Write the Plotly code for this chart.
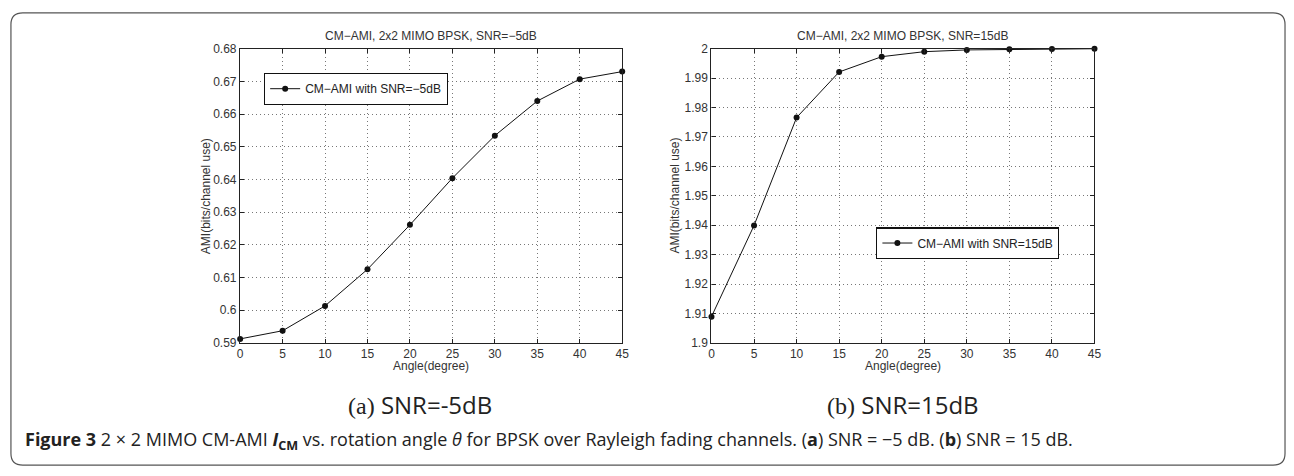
import plotly.graph_objects as go

W, H = 1294, 476

# ---- data ----
angles = [0, 5, 10, 15, 20, 25, 30, 35, 40, 45]
ami_snr_m5 = [0.5912, 0.5937, 0.6013, 0.6125, 0.6261, 0.6404, 0.6534, 0.6640, 0.6707, 0.6730]
ami_snr_15 = [1.9089, 1.9399, 1.9766, 1.9921, 1.9973, 1.9990, 1.9996, 1.9998, 1.9999, 2.0000]

x_ticks = [0, 5, 10, 15, 20, 25, 30, 35, 40, 45]
y_ticks_a = [0.59, 0.60, 0.61, 0.62, 0.63, 0.64, 0.65, 0.66, 0.67, 0.68]
y_ticks_b = [1.90, 1.91, 1.92, 1.93, 1.94, 1.95, 1.96, 1.97, 1.98, 1.99, 2.00]

title_a = "CM\u2212AMI, 2x2 MIMO BPSK, SNR=\u22125dB"
title_b = "CM\u2212AMI, 2x2 MIMO BPSK, SNR=15dB"
legend_a = "CM\u2212AMI with SNR=\u22125dB"
legend_b = "CM\u2212AMI with SNR=15dB"
x_title = "Angle(degree)"
y_title = "AMI(bits/channel use)"
sub_a = ("(a)", "SNR=-5dB")
sub_b = ("(b)", "SNR=15dB")
caption = ("<b>Figure 3</b> 2 \u00d7 2 MIMO CM-AMI <b><i>I</i><sub>CM</sub></b> vs. rotation angle "
           "<i>\u03b8</i> for BPSK over Rayleigh fading channels. (<b>a</b>) SNR = \u22125 dB. "
           "(<b>b</b>) SNR = 15 dB.")

# ---- layout geometry (pixels) ----
ax_a = (239, 624)
ax_b = (714, 1100)
ax_top, ax_bot = 43, 346

def px(x):
    return x / W

def py(y):
    return 1 - y / H

FONT = "Liberation Sans, Arial, sans-serif"

fig = go.Figure()
fig.add_trace(go.Scatter(x=angles, y=ami_snr_m5, mode="lines+markers", name=legend_a,
                         line=dict(color="#111", width=1), marker=dict(color="#111", size=6),
                         cliponaxis=False, xaxis="x", yaxis="y", legend="legend"))
fig.add_trace(go.Scatter(x=angles, y=ami_snr_15, mode="lines+markers", name=legend_b,
                         line=dict(color="#111", width=1), marker=dict(color="#111", size=6),
                         cliponaxis=False, xaxis="x2", yaxis="y2", legend="legend2"))

def fmt(v):
    return f"{v:g}"

axis_common = dict(showline=True, mirror="ticks", linecolor="#222", linewidth=1.4,
                   ticks="inside", ticklen=4, tickcolor="#222", tickwidth=1,
                   showgrid=True, gridcolor="#777", gridwidth=1, griddash="1px,3px",
                   zeroline=False, tickfont=dict(family=FONT, size=12, color="#333"))

fig.update_layout(
    width=W, height=H, margin=dict(l=0, r=0, t=0, b=0),
    paper_bgcolor="white", plot_bgcolor="white",
    xaxis=dict(domain=[px(ax_a[0]), px(ax_a[1])], range=[0, 45], tickvals=x_ticks,
               ticktext=[fmt(v) for v in x_ticks], anchor="y", **axis_common),
    yaxis=dict(domain=[py(ax_bot), py(ax_top)], range=[0.59, 0.68], tickvals=y_ticks_a,
               ticktext=[fmt(v) for v in y_ticks_a], anchor="x", **axis_common),
    xaxis2=dict(domain=[px(ax_b[0]), px(ax_b[1])], range=[0, 45], tickvals=x_ticks,
                ticktext=[fmt(v) for v in x_ticks], anchor="y2", **axis_common),
    yaxis2=dict(domain=[py(ax_bot), py(ax_top)], range=[1.9, 2.0], tickvals=y_ticks_b,
                ticktext=[fmt(v) for v in y_ticks_b], anchor="x2", **axis_common),
    legend=dict(x=px(263), y=py(68), xanchor="left", yanchor="top",
                bgcolor="white", bordercolor="#111", borderwidth=1.2,
                font=dict(family=FONT, size=12, color="#222"), itemwidth=30,
                tracegroupgap=0),
    legend2=dict(x=px(880), y=py(227), xanchor="left", yanchor="top",
                 bgcolor="white", bordercolor="#111", borderwidth=1.2,
                 font=dict(family=FONT, size=12, color="#222"), itemwidth=30,
                 tracegroupgap=0),
    showlegend=True,
)

ann = []
def text(x, y, t, size=12, family=FONT, color="#333", angle=0, xanchor="center"):
    ann.append(dict(x=px(x), y=py(y), xref="paper", yref="paper", text=t, showarrow=False,
                    xanchor=xanchor, yanchor="middle", textangle=angle,
                    font=dict(family=family, size=size, color=color)))

text((ax_a[0] + ax_a[1]) / 2, 30, title_a)
text((ax_b[0] + ax_b[1]) / 2, 30, title_b)
text((ax_a[0] + ax_a[1]) / 2, 370, x_title)
text((ax_b[0] + ax_b[1]) / 2, 370, x_title)
text(204, (ax_top + ax_bot) / 2, y_title, angle=-90)
text(677, (ax_top + ax_bot) / 2, y_title, angle=-90)

SERIF = "Liberation Serif, Times New Roman, serif"
SANS2 = "Open Sans, Noto Sans, sans-serif"
def sub(lbl):
    return (f"<span style='font-family:{SERIF}'>{lbl[0]}</span>"
            f"<span style='font-family:{SANS2}'> {lbl[1]}</span>")
text(420, 410, sub(sub_a), size=24, family=SANS2, color="#222")
text(907, 410, sub(sub_b), size=24, family=SANS2, color="#222")
text(20, 447, caption, size=18, family=SANS2, color="#222", xanchor="left")

fig.update_layout(annotations=ann)

# rounded frame around the whole figure
x0, x1, y0, y1 = 8, 1292, 6, 472
r = 12
rx, ry = r / W, r / H
X0, X1, Y0, Y1 = px(x0), px(x1), py(y1), py(y0)
path = (f"M {X0+rx},{Y1} L {X1-rx},{Y1} Q {X1},{Y1} {X1},{Y1-ry} "
        f"L {X1},{Y0+ry} Q {X1},{Y0} {X1-rx},{Y0} L {X0+rx},{Y0} "
        f"Q {X0},{Y0} {X0},{Y0+ry} L {X0},{Y1-ry} Q {X0},{Y1} {X0+rx},{Y1} Z")
fig.add_shape(type="path", path=path, xref="paper", yref="paper",
              line=dict(color="#555", width=1.2), layer="below")

fig.write_html("out.html")
